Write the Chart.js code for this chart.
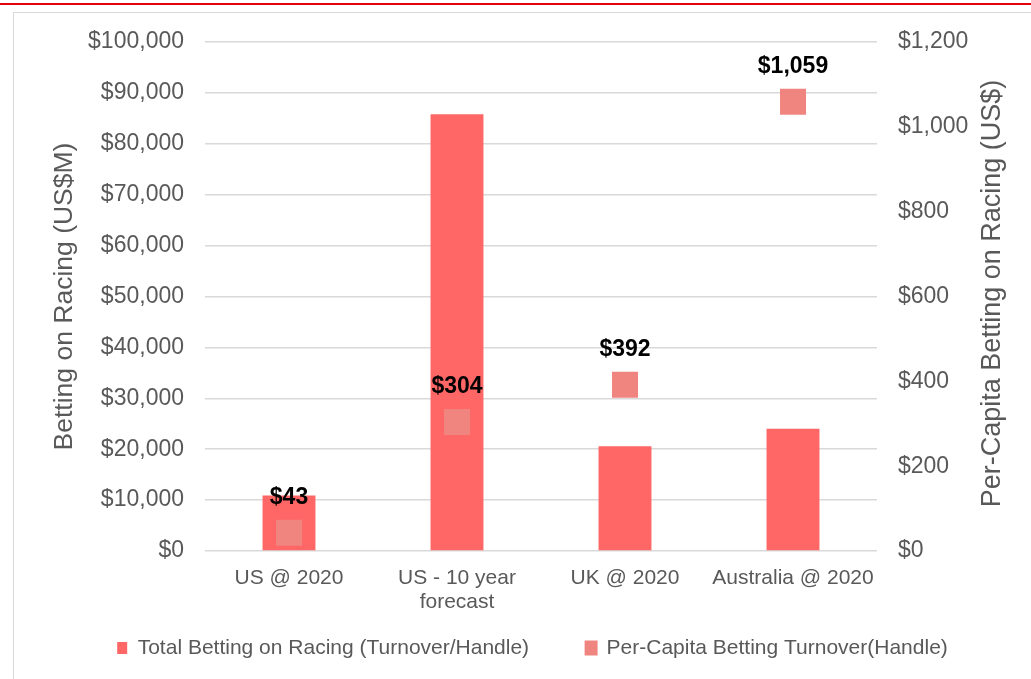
<!DOCTYPE html>
<html lang="en">
<head>
  <meta charset="UTF-8" />
  <title>Betting on Racing</title>
  <script src="https://cdn.jsdelivr.net/npm/chart.js"></script>
  <style>
    html, body {
      margin: 0;
      background: #fff;
      overflow: hidden;
    }

    .topline {
      position: absolute;
      left: 0;
      top: 3px;
      width: 1031px;
      height: 2px;
      background: #e8000b;
    }

    .frame {
      position: absolute;
      left: 13px;
      top: 12px;
      width: 1100px;
      height: 800px;
      border: 1px solid #d9d9d9;
    }

    .wrap {
      position: absolute;
      left: 0;
      top: 0;
      width: 1031px;
      height: 679px;
    }
  </style>
</head>
<body>
  <div class="topline"></div>
  <div class="frame"></div>
  <div class="wrap"><canvas id="chart"></canvas></div>

  <script>
    const categories = ['US @ 2020', ['US - 10 year', 'forecast'], 'UK @ 2020', 'Australia @ 2020'];
    const totalBetting = [10900, 85800, 20600, 24000];   // US$M, left axis
    const perCapita = [43, 304, 392, 1059];               // US$, right axis
    const leftTicks = [0, 10000, 20000, 30000, 40000, 50000, 60000, 70000, 80000, 90000, 100000];
    const rightTicks = [0, 200, 400, 600, 800, 1000, 1200];
    const rightTitle = 'Per-Capita Betting on Racing (US$)';

    const FONT = '"Liberation Sans", Arial, sans-serif';
    const GREY = '#595959';

    const money = v => '$' + v.toLocaleString('en-US');

    // bold value labels above the per-capita markers + right title read bottom-up
    const extras = {
      id: 'extras',
      afterLayout(chart) {
        // let the two-line category labels spill below the short x box without clipping
        const x = chart.scales.x;
        x.bottom = x.top + 75;
      },
      afterDatasetsDraw(chart) {
        const ctx = chart.ctx;
        const meta = chart.getDatasetMeta(1);
        ctx.save();
        ctx.font = 'bold 23px ' + FONT;
        ctx.fillStyle = '#000';
        ctx.textAlign = 'center';
        ctx.textBaseline = 'middle';
        meta.data.forEach((pt, i) => {
          ctx.fillText(money(perCapita[i]), pt.x, pt.y - 35);
        });
        ctx.restore();
      },
      afterDraw(chart) {
        const ctx = chart.ctx;
        const area = chart.chartArea;
        ctx.save();
        ctx.translate(993, (area.top + area.bottom) / 2 - 3);
        ctx.rotate(-Math.PI / 2);
        ctx.font = '27px ' + FONT;
        ctx.fillStyle = GREY;
        ctx.textAlign = 'center';
        ctx.textBaseline = 'middle';
        ctx.fillText(rightTitle, 0, 0);
        ctx.restore();
      }
    };

    const ctx = document.getElementById('chart').getContext('2d');
    new Chart(ctx, {
      data: {
        labels: categories,
        datasets: [
          {
            type: 'bar',
            label: 'Total Betting on Racing (Turnover/Handle)',
            data: totalBetting,
            backgroundColor: '#ff6666',
            yAxisID: 'y',
            order: 1,
            categoryPercentage: 1,
            barPercentage: 0.315
          },
          {
            type: 'line',
            label: 'Per-Capita Betting Turnover(Handle)',
            data: perCapita,
            yAxisID: 'y2',
            order: 0,
            showLine: false,
            pointStyle: 'rect',
            pointRadius: 18.4,
            pointBorderWidth: 0,
            backgroundColor: '#f08580',
            borderColor: '#f08580'
          }
        ]
      },
      options: {
        responsive: true,
        maintainAspectRatio: false,
        animation: false,
        layout: { padding: { left: 34, right: 0, top: 42, bottom: 10.5 } },
        plugins: {
          tooltip: { enabled: false },
          legend: {
            position: 'bottom',
            labels: {
              font: { family: FONT, size: 21 },
              color: GREY,
              boxWidth: 10,
              boxHeight: 12,
              padding: 57,
              sort: (a, b) => a.datasetIndex - b.datasetIndex
            }
          }
        },
        scales: {
          x: {
            grid: { display: false },
            border: { display: false },
            ticks: {
              font: { family: FONT, size: 21, lineHeight: 1.15 },
              color: GREY,
              padding: 7,
              maxRotation: 0,
              autoSkip: false
            },
            afterFit: s => { s.height = 29.5; }
          },
          y: {
            position: 'left',
            min: 0,
            max: 100000,
            afterBuildTicks: s => { s.ticks = leftTicks.map(v => ({ value: v })); },
            grid: { color: '#d9d9d9', lineWidth: 1.5, drawTicks: false },
            border: { display: false },
            ticks: {
              font: { family: FONT, size: 23 },
              color: GREY,
              padding: 21,
              callback: v => money(v)
            },
            title: {
              display: true,
              text: 'Betting on Racing (US$M)',
              font: { family: FONT, size: 26.5 },
              color: GREY,
              padding: { top: 15.1, bottom: 0 }
            },
            afterFit: s => { s.width = 171; }
          },
          y2: {
            position: 'right',
            min: 0,
            max: 1200,
            afterBuildTicks: s => { s.ticks = rightTicks.map(v => ({ value: v })); },
            grid: { display: false, drawTicks: false },
            border: { display: false },
            ticks: {
              font: { family: FONT, size: 23 },
              color: GREY,
              padding: 21,
              callback: v => money(v)
            },
            afterFit: s => { s.width = 154; }
          }
        }
      },
      plugins: [extras]
    });
  </script>
</body>
</html>
